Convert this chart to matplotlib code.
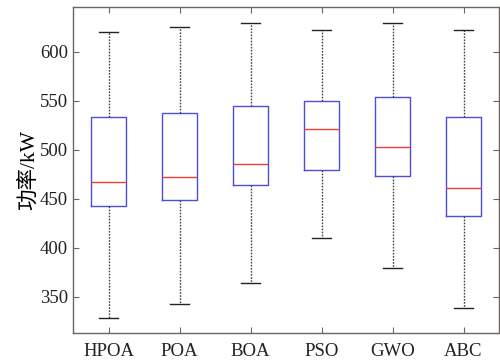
import matplotlib
matplotlib.use('Agg')
import matplotlib.pyplot as plt

# algoritmos y estadisticas de cada caja (kW)
algoritmos = ['HPOA', 'POA', 'BOA', 'PSO', 'GWO', 'ABC']
whis_inf = [328, 343, 364, 410, 379, 339]
q1 = [443, 449, 464, 479, 473, 433]
mediana = [467, 472, 486, 521, 503, 461]
q3 = [534, 538, 545, 550, 554, 534]
whis_sup = [620, 625, 630, 622, 630, 622]

plt.rcParams['font.family'] = ['Liberation Serif', 'Noto Sans CJK SC']
plt.rcParams['axes.unicode_minus'] = False

stats = []
for i in range(len(algoritmos)):
    stats.append({'label': algoritmos[i], 'whislo': whis_inf[i], 'q1': q1[i],
                  'med': mediana[i], 'q3': q3[i], 'whishi': whis_sup[i],
                  'fliers': []})

fig = plt.figure(figsize=(5, 3.62), dpi=100)
ax = fig.add_axes([0.146, 0.080, 0.852, 0.901])

ax.bxp(stats, positions=range(1, 7), widths=0.5, showfliers=False,
       boxprops=dict(color='#4d4dd6', linewidth=1.0),
       medianprops=dict(color='#e8413a', linewidth=1.0),
       whiskerprops=dict(color='#444444', linewidth=1.0, linestyle=(0, (1.2, 1.0))),
       capprops=dict(color='#222222', linewidth=1.0),
       capwidths=0.26)

ax.set_xlim(0.5, 6.5)
ax.set_ylim(313, 646)
ax.set_yticks([350, 400, 450, 500, 550, 600])
ax.set_xticks(range(1, 7))
ax.set_xticklabels(algoritmos)
ax.set_ylabel('功率/kW', fontsize=15.5, labelpad=1)

col_eje = '#6e6560'
for s in ax.spines.values():
    s.set_color(col_eje)
    s.set_linewidth(1.0)
ax.tick_params(direction='in', top=True, right=True, length=4,
               color=col_eje, labelsize=13.5, labelcolor='#222222')
ax.tick_params(axis='x', labelsize=13.5, pad=7)

fig.savefig('out.png', dpi=100)
